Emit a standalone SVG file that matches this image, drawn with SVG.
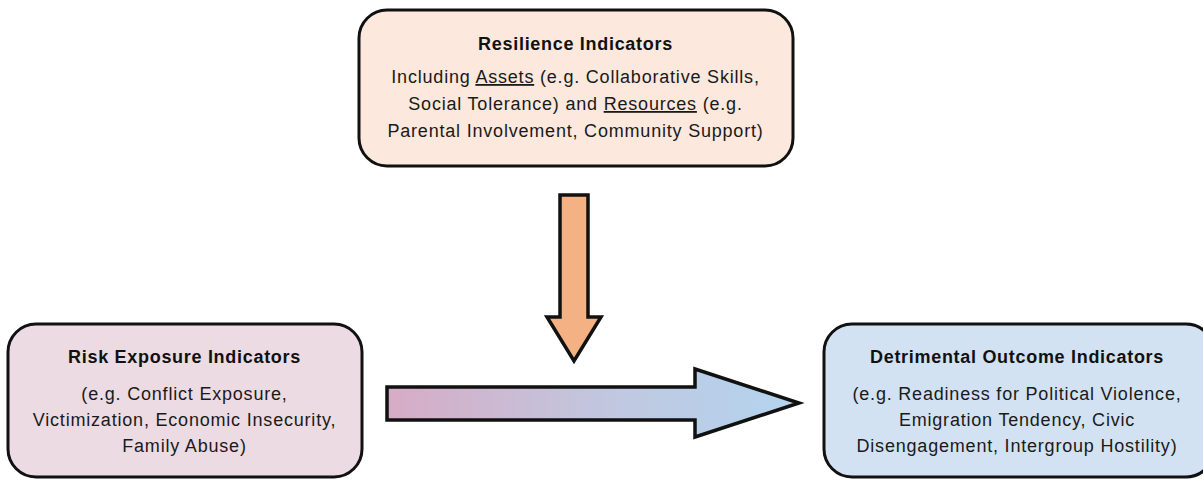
<svg xmlns="http://www.w3.org/2000/svg" width="1203" height="479" viewBox="0 0 1203 479">
<defs>
<style>
.box{stroke:#111;stroke-width:3}
.t{font-family:"Liberation Sans",Arial,sans-serif;font-weight:bold;font-size:18px;fill:#111;text-anchor:middle;letter-spacing:0.7px}
.b{font-family:"Liberation Sans",Arial,sans-serif;font-size:18px;fill:#1a1a1a;text-anchor:middle;letter-spacing:0.8px}
.arr{stroke:#111;stroke-width:3.5;stroke-linejoin:miter}
</style>
<linearGradient id="g1" x1="386" y1="0" x2="800" y2="0" gradientUnits="userSpaceOnUse">
<stop offset="0" stop-color="#d7abc5"/>
<stop offset="0.55" stop-color="#c0c8e0"/>
<stop offset="1" stop-color="#b3d4ef"/>
</linearGradient>
</defs>
<g id="resilience">
<rect class="box" x="359" y="10" width="434" height="156" rx="28" fill="#fce8dc"/>
<text class="t" x="575.5" y="50">Resilience Indicators</text>
<text class="b" x="575.5" y="83">Including <tspan text-decoration="underline">Assets</tspan> (e.g. Collaborative Skills,</text>
<text class="b" x="575.5" y="110">Social Tolerance) and <tspan text-decoration="underline">Resources</tspan> (e.g.</text>
<text class="b" x="575.5" y="137">Parental Involvement, Community Support)</text>
</g>
<g id="risk">
<rect class="box" x="8" y="324" width="354" height="153" rx="28" fill="#ecdbe3"/>
<text class="t" x="184.5" y="363">Risk Exposure Indicators</text>
<text class="b" x="184.5" y="400">(e.g. Conflict Exposure,</text>
<text class="b" x="184.5" y="426">Victimization, Economic Insecurity,</text>
<text class="b" x="184.5" y="452">Family Abuse)</text>
</g>
<g id="outcome">
<rect class="box" x="824" y="324" width="390" height="153" rx="28" fill="#d2e2f2"/>
<text class="t" x="1017" y="363">Detrimental Outcome Indicators</text>
<text class="b" x="1017" y="400">(e.g. Readiness for Political Violence,</text>
<text class="b" x="1017" y="426">Emigration Tendency, Civic</text>
<text class="b" x="1017" y="452">Disengagement, Intergroup Hostility)</text>
</g>
<g id="connectors">
<polygon class="arr" fill="#f4b183" points="560,195 588,195 588,317 601,317 574,361 547,317 560,317"/>
<polygon class="arr" fill="url(#g1)" points="387,387 695,387 695,369 799,403 695,437 695,420 387,420"/>
</g>
</svg>
